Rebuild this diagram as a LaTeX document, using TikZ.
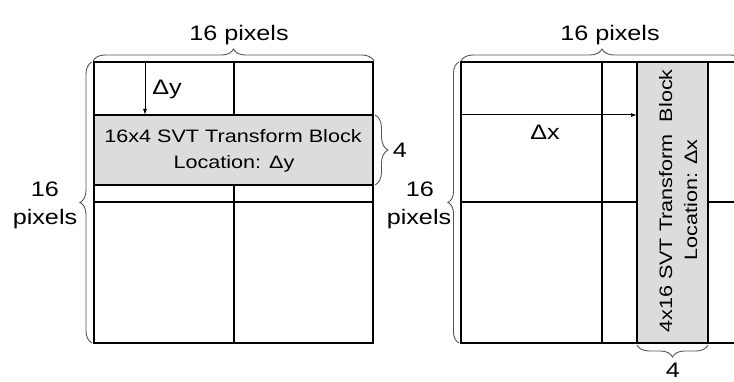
\documentclass[tikz,border=0pt]{standalone}
\usepackage{fontspec}
\setmainfont{Liberation Sans}
\usetikzlibrary{decorations.pathreplacing,arrows.meta}
\newcommand\wt[1]{\scalebox{1.2}[1]{#1}}
\definecolor{blockgray}{HTML}{DCDCDC}
\definecolor{bracegray}{HTML}{555555}
\tikzset{
  outerline/.style={line width=2.6pt},
  innerline/.style={line width=1.2pt},
  blockbox/.style={fill=blockgray, draw=black, line width=1.2pt},
  bracebig/.style={decorate, decoration={brace, amplitude=12pt}, draw=bracegray, line width=0.9pt},
  arrowline/.style={line width=1pt, -{Latex[length=6pt,width=4pt]}},
  lbl/.style={font=\fontsize{21}{24}\selectfont, anchor=base, inner sep=0pt},
  blk/.style={font=\fontsize{18}{21}\selectfont, anchor=base, inner sep=0pt},
}
\begin{document}
\begin{tikzpicture}[x=1pt,y=-1pt]
\useasboundingbox (0,0) rectangle (734,382);
\fill[white] (0,0) rectangle (734,382);
\clip (0,0) rectangle (734,382);

% ---------- Left square ----------
\fill[blockgray] (94,115) rectangle (373,185);
\draw[innerline] (234,62) -- (234,115);
\draw[innerline] (234,185) -- (234,343);
\draw[innerline] (94,202) -- (373,202);
\draw[blockbox] (94,115) rectangle (373,185);
\draw[outerline] (94,62) rectangle (373,343);

\coordinate (dyS) at (145,62);
\coordinate (dyE) at (145,115);
\draw[arrowline] (dyS) -- (dyE);
\node[lbl] (dy) at (167,95) {\wt{Δy}};

\node[blk] (b1a) at (233,143) {\wt{16x4 SVT Transform Block}};
\node[blk] (b1b) at (234,169) {\wt{Location: Δy}};

% braces left square
\draw[bracebig] (93,61) -- (374,61);
\node[lbl] (t1) at (239,41) {\wt{16 pixels}};
\draw[bracebig] (92,343) -- (92,62);
\node[lbl] (l16) at (45,197) {\wt{16}};
\node[lbl] (lpx) at (45,225) {\wt{pixels}};
\draw[bracebig, decoration={brace, amplitude=13pt}] (375,115) -- (375,185);
\node[lbl] (f1) at (400,158) {\wt{4}};

% ---------- Right square ----------
\draw[innerline] (602,62) -- (602,343);
\draw[innerline] (461,202) -- (637,202);
\draw[innerline] (708,202) -- (745,202);
\coordinate (dxS) at (461,115);
\coordinate (dxE) at (637,115);
\draw[arrowline] (dxS) -- (dxE);
\draw[blockbox] (637,62) rectangle (708,343);
\draw[outerline] (745,62) -- (461,62) -- (461,343) -- (745,343);
\node[lbl] (dx) at (545,140) {\wt{Δx}};

\node[blk, rotate=90] (b2a) at (672,201) {\wt{4x16 SVT Transform\hspace{10pt}Block}};
\node[blk, rotate=90] (b2b) at (697,200) {\wt{Location: Δx}};

\draw[bracebig] (461,61) -- (743,61);
\node[lbl] (t2) at (610,41) {\wt{16 pixels}};
\draw[bracebig, decoration={brace, amplitude=11pt}] (459,343) -- (459,62);
\node[lbl] (r16) at (420,197) {\wt{16}};
\node[lbl] (rpx) at (419,225) {\wt{pixels}};
\draw[bracebig] (708,345) -- (637,345);
\node[lbl] (f2) at (673,377) {\wt{4}};
\end{tikzpicture}
\end{document}
